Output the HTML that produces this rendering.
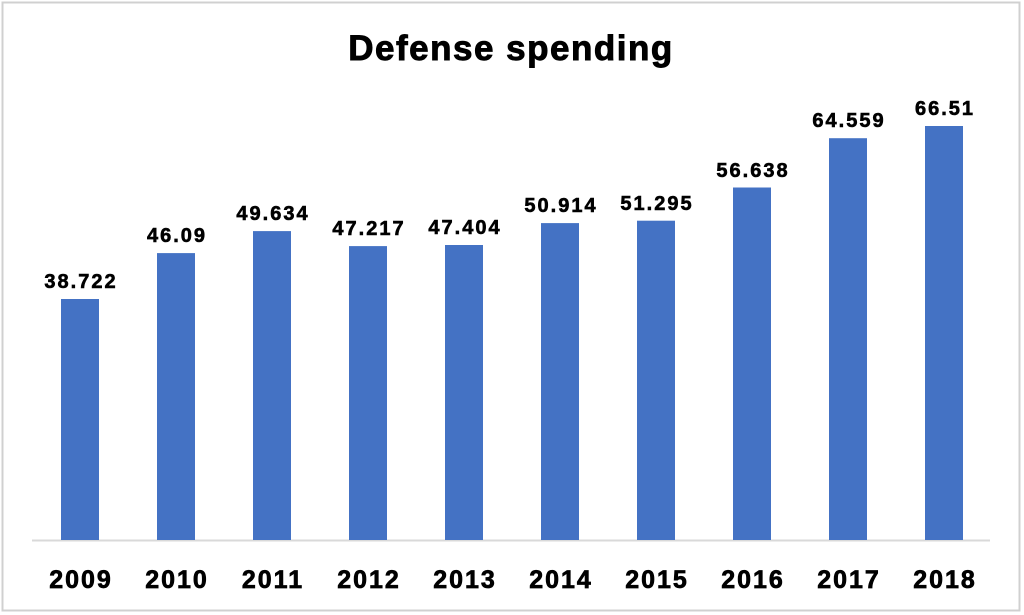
<!DOCTYPE html><html><head><style>body{margin:0;background:#fff}svg{display:block}text{font-family:"Liberation Sans",Arial,sans-serif;font-weight:bold;fill:#000;stroke:#000;text-anchor:middle}</style></head><body>
<svg width="1024" height="615" xmlns="http://www.w3.org/2000/svg">
<rect x="2.5" y="2.5" width="1017" height="608" fill="#fff" stroke="#d0d0d0" stroke-width="2"/>
<text x="511" y="60" font-size="35" stroke-width="0.9" letter-spacing="1.5">Defense spending</text>
<line x1="32" y1="540.5" x2="990" y2="540.5" stroke="#d9d9d9" stroke-width="2"/>
<g fill="#4472c4" stroke="none">
<rect x="61" y="299" width="38" height="241"/>
<rect x="157" y="253.1" width="38" height="286.9"/>
<rect x="253" y="231.1" width="38" height="308.9"/>
<rect x="349" y="246.1" width="38" height="293.9"/>
<rect x="445" y="245" width="38" height="295"/>
<rect x="541" y="223.1" width="38" height="316.9"/>
<rect x="637" y="220.7" width="38" height="319.3"/>
<rect x="733" y="187.5" width="38" height="352.5"/>
<rect x="829" y="138.2" width="38" height="401.8"/>
<rect x="925" y="126" width="38" height="414"/>
</g>
<g font-size="20" stroke-width="0.6" letter-spacing="2">
<text x="81" y="288">38.722</text>
<text x="177" y="242">46.09</text>
<text x="273" y="220">49.634</text>
<text x="369" y="235">47.217</text>
<text x="465" y="234">47.404</text>
<text x="561" y="212">50.914</text>
<text x="657" y="210">51.295</text>
<text x="753" y="177">56.638</text>
<text x="849" y="127">64.559</text>
<text x="945" y="115">66.51</text>
</g>
<g font-size="25" stroke-width="0.7" letter-spacing="2">
<text x="81" y="588">2009</text>
<text x="177" y="588">2010</text>
<text x="273" y="588">2011</text>
<text x="369" y="588">2012</text>
<text x="465" y="588">2013</text>
<text x="561" y="588">2014</text>
<text x="657" y="588">2015</text>
<text x="753" y="588">2016</text>
<text x="849" y="588">2017</text>
<text x="945" y="588">2018</text>
</g>
</svg></body></html>
